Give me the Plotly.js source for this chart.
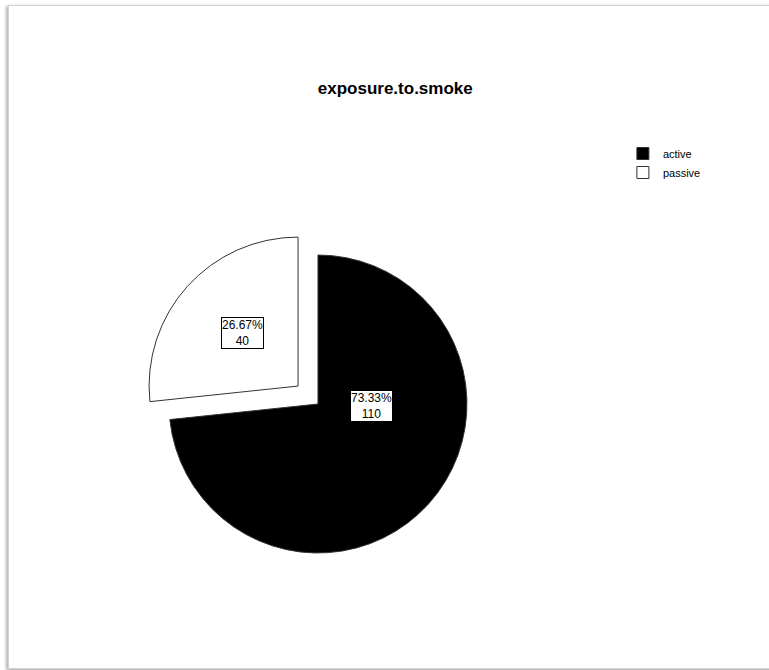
<!DOCTYPE html>
<html>
<head>
<meta charset="utf-8">
<script src="https://cdn.plot.ly/plotly-3.0.1.min.js"></script>
<style>
  html, body { margin: 0; padding: 0; background: #ffffff; width: 769px; height: 670px; overflow: hidden; }
  #frame { position: absolute; left: 8px; top: 5px; width: 800px; height: 662px;
           border: 1px solid #d4d4d4; box-shadow: -2px 1px 3px #b8b8b8, 0 2px 3px #b8b8b8; background: #fff; }
  #chart { position: absolute; left: 0; top: 0; width: 769px; height: 670px; }
</style>
</head>
<body>
<div id="frame"></div>
<div id="chart"></div>
<script>
// ---- data ----
const categories = ["active", "passive"];
const counts = [110, 40];
const sliceColors = ["#000000", "#ffffff"];
const pulls = [0, 0.18];
const chartTitle = "exposure.to.smoke";

const total = counts.reduce((a, b) => a + b, 0);
const labelTexts = counts.map(v => (100 * v / total).toFixed(2) + "%<br>" + v);

// label box positions (paper coords)
const labelPos = [[0.4831, 0.3933], [0.3153, 0.5037]];

const font = "Liberation Sans, Arial, sans-serif";

const trace = {
  type: "pie",
  labels: categories,
  values: counts,
  sort: false,
  direction: "clockwise",
  rotation: 0,
  pull: pulls,
  textinfo: "none",
  hoverinfo: "label+value+percent",
  marker: { colors: sliceColors, line: { color: "#333333", width: 1 } },
  domain: { x: [0.1849, 0.6421], y: [0.1346, 0.6594] },
  showlegend: true
};

const annotations = categories.map((c, i) => ({
  xref: "paper", yref: "paper",
  x: labelPos[i][0], y: labelPos[i][1],
  xanchor: "center", yanchor: "middle",
  text: labelTexts[i],
  showarrow: false,
  bgcolor: "#ffffff",
  bordercolor: "#000000",
  borderwidth: 1,
  borderpad: 0,
  font: { family: font, size: 12, color: "#000000" }
}));

const layout = {
  width: 769, height: 670,
  margin: { l: 0, r: 0, t: 0, b: 0 },
  paper_bgcolor: "rgba(0,0,0,0)",
  plot_bgcolor: "rgba(0,0,0,0)",
  title: {
    text: chartTitle,
    x: 0.514, xref: "paper", xanchor: "center",
    y: 1 - 88 / 670, yref: "container", yanchor: "middle",
    font: { family: font, size: 17, weight: "bold", color: "#000000" }
  },
  legend: {
    x: 0.810, y: 1 - 139 / 670, xanchor: "left", yanchor: "top",
    font: { family: font, size: 11, color: "#000000" },
    bgcolor: "rgba(0,0,0,0)",
    itemwidth: 30,
    tracegroupgap: 0
  },
  annotations: annotations
};

Plotly.newPlot("chart", [trace], layout, { staticPlot: true, displayModeBar: false });
</script>
</body>
</html>
